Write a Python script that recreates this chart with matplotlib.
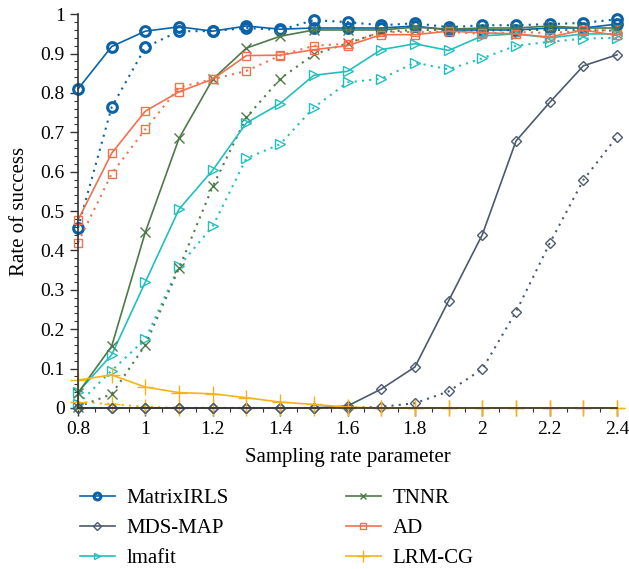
import numpy as np
import matplotlib
matplotlib.use('Agg')
import matplotlib.pyplot as plt
from matplotlib.ticker import MultipleLocator, FuncFormatter

plt.rcParams['font.family'] = ['Liberation Serif', 'DejaVu Serif']

xs = [0.8, 0.9, 1.0, 1.1, 1.2, 1.3, 1.4, 1.5, 1.6, 1.7, 1.8, 1.9, 2.0, 2.1, 2.2, 2.3, 2.4]

# solid lines (in legend)
matrixirls = [0.81, 0.918, 0.957, 0.968, 0.957, 0.97, 0.962, 0.965, 0.965, 0.965, 0.97, 0.96, 0.96, 0.96, 0.965, 0.965, 0.975]
mdsmap = [0.0, 0.0, 0.0, 0.0, 0.0, 0.0, 0.0, 0.0, 0.005, 0.048, 0.104, 0.272, 0.44, 0.678, 0.776, 0.869, 0.897]
lmafit = [0.04, 0.135, 0.32, 0.505, 0.604, 0.724, 0.773, 0.845, 0.855, 0.91, 0.925, 0.908, 0.945, 0.95, 0.94, 0.95, 0.95]
tnnr = [0.038, 0.157, 0.447, 0.685, 0.835, 0.914, 0.944, 0.96, 0.96, 0.96, 0.967, 0.962, 0.965, 0.965, 0.97, 0.965, 0.965]
ad = [0.477, 0.647, 0.754, 0.803, 0.835, 0.895, 0.896, 0.91, 0.92, 0.948, 0.948, 0.957, 0.953, 0.95, 0.942, 0.96, 0.946]
lrmcg = [0.071, 0.084, 0.053, 0.039, 0.036, 0.026, 0.015, 0.009, 0.002, 0.0, 0.0, 0.0, 0.0, 0.0, 0.0, 0.0, 0.0]

# dotted lines (second setting, no legend)
matrixirls_d = [0.457, 0.764, 0.916, 0.957, 0.957, 0.965, 0.96, 0.985, 0.98, 0.972, 0.977, 0.967, 0.972, 0.972, 0.975, 0.978, 0.987]
mdsmap_d = [0.0, 0.0, 0.0, 0.0, 0.0, 0.0, 0.0, 0.0, 0.0, 0.003, 0.012, 0.042, 0.099, 0.244, 0.418, 0.579, 0.689]
lmafit_d = [0.01, 0.095, 0.175, 0.36, 0.462, 0.634, 0.67, 0.763, 0.827, 0.836, 0.877, 0.86, 0.888, 0.92, 0.93, 0.938, 0.94]
tnnr_d = [0.003, 0.035, 0.16, 0.355, 0.563, 0.738, 0.836, 0.898, 0.926, 0.955, 0.96, 0.96, 0.958, 0.96, 0.96, 0.96, 0.958]
ad_d = [0.42, 0.595, 0.708, 0.814, 0.835, 0.856, 0.895, 0.92, 0.925, 0.955, 0.955, 0.955, 0.95, 0.955, 0.952, 0.958, 0.96]
lrmcg_d = [0.015, 0.01, 0.003, 0.0, 0.0, 0.0, 0.0, 0.0, 0.0, 0.0, 0.0, 0.0, 0.0, 0.0, 0.0, 0.0, 0.0]

series = [
    ('MatrixIRLS', matrixirls, matrixirls_d, '#0a62a8', 'o', 7, 2.2),
    ('MDS-MAP', mdsmap, mdsmap_d, '#4b5a70', 'D', 5.5, 1.0),
    ('lmafit', lmafit, lmafit_d, '#22bfc0', '>', 7, 1.0),
    ('TNNR', tnnr, tnnr_d, '#4d7a48', 'x', 7, 1.0),
    ('AD', ad, ad_d, '#f2714f', 's', 6, 1.0),
    ('LRM-CG', lrmcg, lrmcg_d, '#f6b318', '+', 12, 1.0),
]

fig = plt.figure(figsize=(6.29, 5.69), dpi=100)
ax = fig.add_axes([0.124, 0.283, 0.857, 0.692])

for name, ys, ys_d, col, mk, ms, mew in series:
    ax.plot(xs, ys_d, linestyle=(0, (1, 2.5)), color=col, marker=mk, markersize=ms,
            markerfacecolor='none', markeredgecolor=col, markeredgewidth=mew, linewidth=1.5, clip_on=False)
for name, ys, ys_d, col, mk, ms, mew in series:
    ax.plot(xs, ys, linestyle='-', color=col, marker=mk, markersize=ms, label=name,
            markerfacecolor='none', markeredgecolor=col, markeredgewidth=mew, linewidth=1.2, clip_on=False)

ax.set_xlim(0.8, 2.4)
ax.set_ylim(0, 1)
ax.xaxis.set_major_locator(MultipleLocator(0.2))
ax.xaxis.set_minor_locator(MultipleLocator(0.05))
ax.yaxis.set_major_locator(MultipleLocator(0.1))
ax.yaxis.set_minor_locator(MultipleLocator(0.02))
fmt = FuncFormatter(lambda v, p: ('%.1f' % v).rstrip('0').rstrip('.') if abs(v) > 1e-9 else '0')
ax.xaxis.set_major_formatter(fmt)
ax.yaxis.set_major_formatter(fmt)

for s in ['top', 'right']:
    ax.spines[s].set_visible(False)
for s in ['left', 'bottom']:
    ax.spines[s].set_color('#333333')
    ax.spines[s].set_linewidth(1.2)
ax.tick_params(which='major', direction='out', length=6, width=1.0, color='#333333', labelsize=14)
ax.tick_params(which='minor', direction='out', length=3, width=0.8, color='#333333')

ax.set_xlabel('Sampling rate parameter', fontsize=15, labelpad=7)
ax.set_ylabel('Rate of success', fontsize=15, labelpad=8)

fig.legend(loc='lower left', bbox_to_anchor=(0.097, -0.032), ncol=2, frameon=False, fontsize=15,
           columnspacing=5.6, handlelength=1.7, handletextpad=0.55, labelspacing=0.5, markerscale=0.7)

fig.savefig('out.png', dpi=100)
